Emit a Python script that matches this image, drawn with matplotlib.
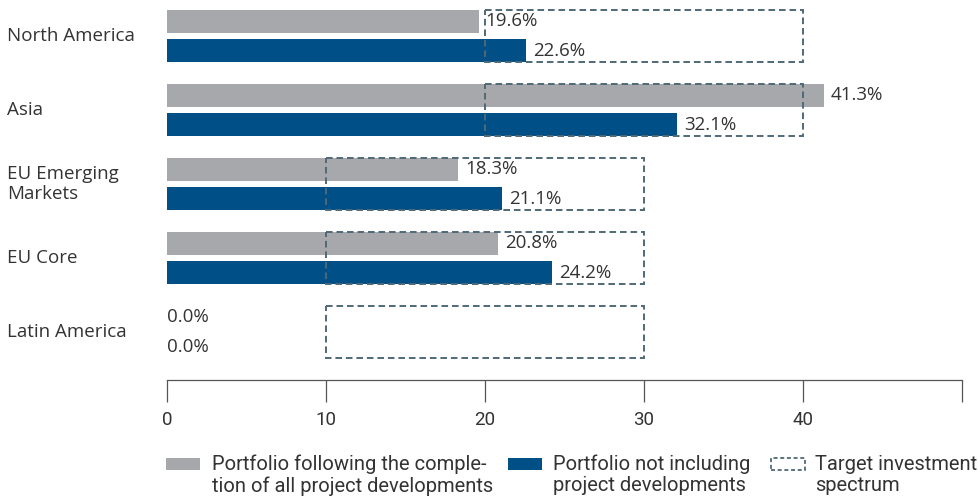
import matplotlib
matplotlib.use("Agg")
import matplotlib.pyplot as plt
from matplotlib.patches import Rectangle
from matplotlib.transforms import blended_transform_factory

# data
regions = ["North America", "Asia", "EU Emerging\nMarkets", "EU Core", "Latin America"]
portfolio_completed = [19.6, 41.3, 18.3, 20.8, 0.0]
portfolio_current = [22.6, 32.1, 21.1, 24.2, 0.0]
target_low = [20, 20, 10, 10, 10]
target_high = [40, 40, 30, 30, 30]
x_ticks = [0, 10, 20, 30, 40, 50]
x_tick_labels = ["0", "10", "20", "30", "40", ""]
legend_labels = [
    "Portfolio following the comple-\ntion of all project developments",
    "Portfolio not including\nproject developments",
    "Target investment\nspectrum",
]

GREY = "#a7a8ab"
BLUE = "#004f86"
BOX = "#4f6977"
TEXT = "#333333"
MAIN_FONT = ["Open Sans", "DejaVu Sans"]
NARROW_FONT = ["Roboto", "DejaVu Sans"]

W, H = 979, 501
fig = plt.figure(figsize=(W / 100, H / 100), dpi=100)

# axes: x=0 at px 167, x=50 at px 962, spine at px 380
ax = fig.add_axes([167 / W, (H - 380) / H, 795 / W, 380 / H])

period = 74.0
bar_h = 23 / period
off = 14.5 / period
n = len(regions)

for i in range(n):
    ax.barh(i - off, portfolio_completed[i], height=bar_h, color=GREY, zorder=2)
    ax.barh(i + off, portfolio_current[i], height=bar_h, color=BLUE, zorder=2)
    box = Rectangle((target_low[i], i - off - bar_h / 2),
                    target_high[i] - target_low[i], 2 * off + bar_h,
                    fill=False, edgecolor=BOX, linewidth=1.4,
                    linestyle=(0, (3.4, 2.0)), zorder=3)
    ax.add_patch(box)

    for v, y in ((portfolio_completed[i], i - off), (portfolio_current[i], i + off)):
        pad = 5 if v > 0 else 0
        ax.annotate(f"{v:.1f}%", (v, y), xytext=(pad, 0), textcoords="offset points",
                    va="center", ha="left", fontsize=13.5, color=TEXT,
                    family=MAIN_FONT, zorder=4)

ax.set_xlim(0, 50)
ax.set_ylim(380 / period - 36 / period, -36 / period)
ax.set_xticks(x_ticks)
ax.set_xticklabels(x_tick_labels, family=NARROW_FONT, fontsize=13.5, color=TEXT)
ax.tick_params(axis="x", direction="out", length=16, width=0.9, color="#555555", pad=6)
ax.set_yticks([])
for side in ("top", "right", "left"):
    ax.spines[side].set_visible(False)
ax.spines["bottom"].set_color("#555555")
ax.spines["bottom"].set_linewidth(0.9)
ax.patch.set_alpha(0)

# category labels, left aligned at the figure edge
trans = blended_transform_factory(fig.transFigure, ax.transData)
for i, name in enumerate(regions):
    ax.text(7 / W, i, name, transform=trans, ha="left", va="center",
            fontsize=13.5, color=TEXT, family=MAIN_FONT, linespacing=1.1)

# legend
legend_x = [166, 508, 771]
text_x = [212, 553, 815]
styles = [dict(facecolor=GREY, edgecolor="none"),
          dict(facecolor=BLUE, edgecolor="none"),
          dict(fill=False, edgecolor=BOX, linewidth=1.3, linestyle=(0, (2.2, 1.5)))]
for lx, tx, st, label in zip(legend_x, text_x, styles, legend_labels):
    fig.add_artist(Rectangle((lx / W, (H - 470) / H), 34 / W, 12 / H,
                             transform=fig.transFigure, **st))
    fig.text(tx / W, (H - 475) / H, label, ha="left", va="center",
             fontsize=14.5, color=TEXT, family=NARROW_FONT, linespacing=1.15)

fig.savefig("out.png", dpi=100)
